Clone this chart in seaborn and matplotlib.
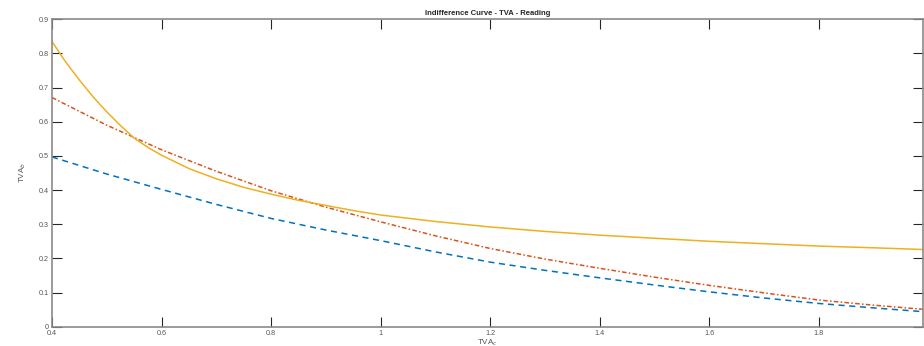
import matplotlib
matplotlib.use("Agg")
import matplotlib.pyplot as plt
import seaborn as sns
import pandas as pd

# values
x_yellow = [0.4, 0.425, 0.45, 0.475, 0.5, 0.525, 0.55, 0.575, 0.6, 0.65, 0.7, 0.75, 0.8,
            0.85, 0.9, 0.95, 1.0, 1.1, 1.2, 1.3, 1.4, 1.5, 1.6, 1.7, 1.8, 1.9, 1.99]
yellow = [0.835, 0.775, 0.722, 0.673, 0.629, 0.589, 0.552, 0.525, 0.502, 0.463, 0.433, 0.408, 0.388,
          0.370, 0.355, 0.340, 0.327, 0.308, 0.292, 0.279, 0.268, 0.259, 0.250, 0.243, 0.236, 0.231, 0.226]

x_lines = [0.4, 0.5, 0.6, 0.7, 0.8, 0.9, 1.0, 1.1, 1.2, 1.3, 1.4, 1.5, 1.6, 1.7, 1.8, 1.9, 1.99]
red = [0.671, 0.590, 0.518, 0.455, 0.398, 0.350, 0.307, 0.266, 0.229, 0.198, 0.171, 0.145, 0.121, 0.099, 0.078, 0.063, 0.051]
blue = [0.497, 0.447, 0.402, 0.358, 0.317, 0.283, 0.252, 0.219, 0.189, 0.165, 0.143, 0.122, 0.102, 0.084, 0.068, 0.055, 0.044]

xticks = [0.4, 0.6, 0.8, 1.0, 1.2, 1.4, 1.6, 1.8]
xticklabels = ["0.4", "0.6", "0.8", "1", "1.2", "1.4", "1.6", "1.8"]
yticks = [0, 0.1, 0.2, 0.3, 0.4, 0.5, 0.6, 0.7, 0.8, 0.9]
yticklabels = ["0", "0.1", "0.2", "0.3", "0.4", "0.5", "0.6", "0.7", "0.8", "0.9"]

df = pd.DataFrame({"x": x_lines, "blue": blue, "red": red})
dfy = pd.DataFrame({"x": x_yellow, "yellow": yellow})

sns.set_style("ticks")
plt.rcParams['font.family'] = ['Liberation Sans', 'DejaVu Sans']

fig = plt.figure(figsize=(9.24, 3.46), dpi=100)
ax = fig.add_axes([52/924, (346-326.7)/346, 871/924, 307.4/346])

sns.lineplot(data=df, x="x", y="blue", ax=ax, color="#0072BD", linestyle=(0, (4, 3)), linewidth=1.1)
sns.lineplot(data=df, x="x", y="red", ax=ax, color="#D95319", linestyle=(0, (3, 1.5, 1, 1.5)), linewidth=1.1)
sns.lineplot(data=dfy, x="x", y="yellow", ax=ax, color="#EDB120", linestyle="-", linewidth=1.1)

ax.set_xlim(0.4, 1.99)
ax.set_ylim(0, 0.9)
ax.set_xticks(xticks)
ax.set_xticklabels(xticklabels)
ax.set_yticks(yticks)
ax.set_yticklabels(yticklabels)
ax.tick_params(direction="in", length=7, width=0.8, colors="#262626", labelsize=5.2,
               top=True, right=True, labelcolor="#555555")
ax.tick_params(axis="x", pad=2.5)
ax.tick_params(axis="y", pad=2)
for s in ax.spines.values():
    s.set_visible(True)
    s.set_color("#8a8a8a")
    s.set_linewidth(1.2)

ax.set_xlabel("TVA$_c$", fontsize=5.8, color="#555555", labelpad=0)
ax.set_ylabel("TVA$_b$", fontsize=5.8, color="#555555", labelpad=8)
ax.set_title("Indifference Curve - TVA - Reading", fontsize=5.5, fontweight="bold", pad=3)

fig.savefig("out.png", dpi=100)
